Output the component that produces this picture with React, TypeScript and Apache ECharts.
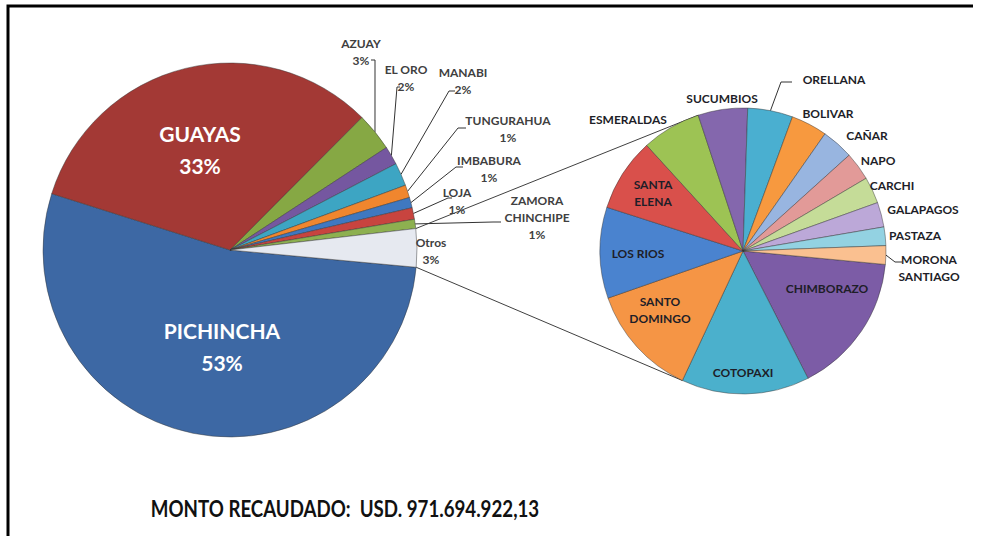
import React, { useEffect, useRef } from "react";
import * as echarts from "echarts";

// ---- data (percent of total collected) ----
const mainNames = ["PICHINCHA", "GUAYAS", "AZUAY", "EL ORO", "MANABI", "TUNGURAHUA", "IMBABURA", "LOJA", "ZAMORA CHINCHIPE", "Otros"];
const mainShares = [53.4, 32.6, 3.3, 1.6, 2.0, 1.1, 0.9, 1.0, 0.8, 3.3];
const mainColors = ["#3D68A4", "#A33935", "#86A844", "#7557A0", "#3DA5C3", "#F0862E", "#3F78C0", "#C8443F", "#8DB050", "#E6E9F0"];

// breakdown of "Otros" (percent within Otros)
const otherNames = ["CHIMBORAZO", "COTOPAXI", "SANTO DOMINGO", "LOS RIOS", "SANTA ELENA", "ESMERALDAS", "SUCUMBIOS", "ORELLANA", "BOLIVAR", "CAÑAR", "NAPO", "CARCHI", "GALAPAGOS", "PASTAZA", "MORONA SANTIAGO"];
const otherShares = [16.0, 14.5, 12.7, 10.3, 8.3, 6.7, 5.6, 5.1, 4.1, 3.6, 3.2, 3.0, 2.8, 2.1, 2.1];
const otherColors = ["#7C5CA6", "#4BB0CC", "#F59545", "#4A83CF", "#D9504B", "#9DC354", "#8467AD", "#4AAFD0", "#F7993F", "#98B5E0", "#E29A98", "#C5DC98", "#BCA8D8", "#93D2E2", "#FAC090"];

const footerText = "MONTO RECAUDADO:  USD. 971.694.922,13";

// ---- layout ----
const LEFT = { cx: 230, cy: 250, r: 187, start: -5.3 };
const RIGHT = { cx: 743, cy: 251, r: 143, start: -5.4 };

type Spot = { x: number; y: number; bend?: number[]; end?: number[] };
const mainSpots: Record<string, Spot> = {
  PICHINCHA: { x: 222, y: 346 },
  GUAYAS: { x: 200, y: 149 },
  AZUAY: { x: 361, y: 52, bend: [375, 60], end: [371, 60] },
  "EL ORO": { x: 406, y: 78, bend: [397, 87], end: [400, 87] },
  MANABI: { x: 463, y: 81, bend: [449, 91], end: [455, 91] },
  TUNGURAHUA: { x: 508, y: 129, bend: [458, 128], end: [466, 128] },
  IMBABURA: { x: 489, y: 169, bend: [456, 167], end: [463, 167] },
  LOJA: { x: 457, y: 201, bend: [448, 198], end: [452, 198] },
  "ZAMORA CHINCHIPE": { x: 537, y: 217, bend: [493, 222], end: [501, 222] },
  Otros: { x: 431, y: 251 },
};
const otherSpots: Record<string, Spot> = {
  CHIMBORAZO: { x: 827, y: 288 },
  COTOPAXI: { x: 743, y: 372 },
  "SANTO DOMINGO": { x: 660, y: 310 },
  "LOS RIOS": { x: 638, y: 253 },
  "SANTA ELENA": { x: 653, y: 193 },
  ESMERALDAS: { x: 628, y: 119 },
  SUCUMBIOS: { x: 722, y: 98 },
  ORELLANA: { x: 834, y: 79, bend: [781, 82], end: [792, 82] },
  BOLIVAR: { x: 828, y: 113 },
  "CAÑAR": { x: 867, y: 135 },
  NAPO: { x: 878, y: 160 },
  CARCHI: { x: 892, y: 185 },
  GALAPAGOS: { x: 923, y: 209 },
  PASTAZA: { x: 915, y: 235 },
  "MORONA SANTIAGO": { x: 929, y: 268, bend: [895, 262], end: [902, 262] },
};
const breaks: Record<string, string> = {
  "ZAMORA CHINCHIPE": "ZAMORA\nCHINCHIPE",
  "SANTO DOMINGO": "SANTO\nDOMINGO",
  "SANTA ELENA": "SANTA\nELENA",
  "MORONA SANTIAGO": "MORONA\nSANTIAGO",
};

const sum = (a: number[]) => a.reduce((s, v) => s + v, 0);
function fracBefore(vals: number[], i: number) {
  return sum(vals.slice(0, i)) / sum(vals);
}
function pointAt(g: typeof LEFT, frac: number, rr?: number) {
  const a = ((g.start - frac * 360) * Math.PI) / 180;
  const r = rr ?? g.r;
  return [g.cx + r * Math.cos(a), g.cy - r * Math.sin(a)];
}

function makeLayout(g: typeof LEFT, names: string[], vals: number[], spots: Record<string, Spot>) {
  return (p: any) => {
    const name = names[p.dataIndex];
    const s = spots[name];
    if (!s) return {};
    const out: any = { x: s.x, y: s.y, align: "center", verticalAlign: "middle" };
    if (s.bend && s.end) {
      const mid = fracBefore(vals, p.dataIndex) + vals[p.dataIndex] / sum(vals) / 2;
      out.labelLinePoints = [pointAt(g, mid), s.bend, s.end];
    }
    return out;
  };
}

export default function App() {
  const ref = useRef<HTMLDivElement>(null);
  useEffect(() => {
    const chart = echarts.init(ref.current!, null, { renderer: "svg" });
    const totalMain = sum(mainShares);

    const mainData = mainNames.map((n, i) => {
      const big = i < 2;
      const hasLine = !!mainSpots[n]?.bend;
      return {
        name: n,
        value: mainShares[i],
        itemStyle: { color: mainColors[i] },
        label: big ? { fontSize: 21, color: "#ffffff", lineHeight: 32 } : {},
        labelLine: { show: hasLine },
      };
    });
    const otherData = otherNames.map((n, i) => ({
      name: n,
      value: otherShares[i],
      itemStyle: { color: otherColors[i] },
      labelLine: { show: !!otherSpots[n]?.bend },
    }));

    // connector lines between the "Otros" slice and the breakdown pie
    const otrosIdx = mainNames.indexOf("Otros");
    const pTop = pointAt(LEFT, fracBefore(mainShares, otrosIdx));
    const pBot = pointAt(LEFT, fracBefore(mainShares, otrosIdx + 1));
    const qTop = pointAt(RIGHT, fracBefore(otherShares, otherNames.indexOf("SUCUMBIOS")));
    const qBot = pointAt(RIGHT, fracBefore(otherShares, otherNames.indexOf("SANTO DOMINGO")));

    const option: any = {
      animation: false,
      backgroundColor: "#ffffff",
      textStyle: { fontFamily: "Lato, 'Noto Sans', sans-serif" },
      graphic: [
        {
          type: "polyline",
          shape: { points: [[8, 540], [8, 6], [973, 6]] },
          style: { stroke: "#000", lineWidth: 3, fill: null },
          silent: true,
        },
        {
          type: "line",
          shape: { x1: pTop[0], y1: pTop[1], x2: qTop[0], y2: qTop[1] },
          style: { stroke: "#404040", lineWidth: 1 },
          silent: true,
        },
        {
          type: "line",
          shape: { x1: pBot[0], y1: pBot[1], x2: qBot[0], y2: qBot[1] },
          style: { stroke: "#404040", lineWidth: 1 },
          silent: true,
        },
        {
          type: "text",
          x: 345,
          y: 508,
          scaleX: 0.85,
          style: {
            text: footerText,
            fontFamily: "Lato, sans-serif",
            fontWeight: "bold",
            fontSize: 22,
            fill: "#111",
            textAlign: "center",
            textVerticalAlign: "middle",
          },
          silent: true,
        },
      ],
      series: [
        {
          type: "pie",
          center: [LEFT.cx, LEFT.cy],
          radius: [0, LEFT.r],
          startAngle: LEFT.start,
          clockwise: true,
          avoidLabelOverlap: false,
          itemStyle: { borderColor: "rgba(50,50,50,0.45)", borderWidth: 1 },
          label: {
            show: true,
            position: "outside",
            fontFamily: "Lato, sans-serif",
            fontWeight: "bold",
            fontSize: 12,
            lineHeight: 17,
            color: "#404040",
            formatter: (p: any) =>
              `${breaks[p.name] ?? p.name}\n${Math.round((p.value / totalMain) * 100)}%`,
          },
          labelLine: { show: true, lineStyle: { color: "#333", width: 1 } },
          labelLayout: makeLayout(LEFT, mainNames, mainShares, mainSpots),
          data: mainData,
        },
        {
          type: "pie",
          center: [RIGHT.cx, RIGHT.cy],
          radius: [0, RIGHT.r],
          startAngle: RIGHT.start,
          clockwise: true,
          avoidLabelOverlap: false,
          itemStyle: { borderColor: "rgba(50,50,50,0.45)", borderWidth: 1 },
          label: {
            show: true,
            position: "outside",
            fontFamily: "Lato, sans-serif",
            fontWeight: "bold",
            fontSize: 12,
            lineHeight: 17,
            color: "#1e1e28",
            formatter: (p: any) => breaks[p.name] ?? p.name,
          },
          labelLine: { show: true, lineStyle: { color: "#333", width: 1 } },
          labelLayout: makeLayout(RIGHT, otherNames, otherShares, otherSpots),
          data: otherData,
        },
      ],
    };
    chart.setOption(option);
    return () => chart.dispose();
  }, []);
  return (
    <div
      ref={ref}
      style={{ position: "absolute", left: 0, top: 0, width: 982, height: 536, background: "#fff" }}
    />
  );
}
